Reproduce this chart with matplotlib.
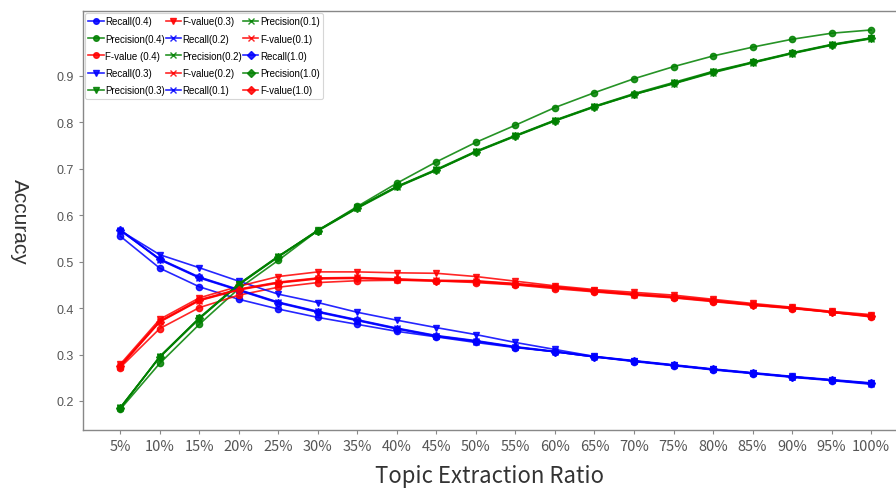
import matplotlib
matplotlib.use("Agg")
import matplotlib.pyplot as plt
import numpy as np

# ----------------------------------------------------------------------------
# data (ratio 5%..100%)
# ----------------------------------------------------------------------------
ratio_labels = [f"{r}%" for r in range(5, 101, 5)]

recall_04 = [0.555, 0.486, 0.446, 0.419, 0.398, 0.380, 0.365, 0.350, 0.338, 0.326,
             0.315, 0.306, 0.295, 0.285, 0.276, 0.267, 0.259, 0.251, 0.244, 0.236]
recall_03 = [0.567, 0.515, 0.487, 0.458, 0.430, 0.412, 0.391, 0.374, 0.358, 0.343,
             0.326, 0.311, 0.296, 0.287, 0.278, 0.269, 0.261, 0.253, 0.246, 0.239]
recall_02 = [0.567, 0.506, 0.467, 0.440, 0.413, 0.393, 0.375, 0.357, 0.341, 0.330,
             0.317, 0.307, 0.296, 0.286, 0.277, 0.268, 0.260, 0.252, 0.245, 0.238]
recall_01 = [0.568, 0.504, 0.465, 0.438, 0.411, 0.391, 0.373, 0.355, 0.339, 0.328,
             0.316, 0.306, 0.295, 0.286, 0.277, 0.268, 0.260, 0.252, 0.245, 0.237]
recall_10 = [0.569, 0.505, 0.466, 0.439, 0.412, 0.392, 0.374, 0.356, 0.340, 0.329,
             0.316, 0.306, 0.295, 0.286, 0.277, 0.268, 0.260, 0.252, 0.245, 0.238]

prec_04 = [0.182, 0.281, 0.365, 0.442, 0.503, 0.567, 0.619, 0.669, 0.715, 0.757,
           0.794, 0.832, 0.864, 0.894, 0.920, 0.943, 0.962, 0.979, 0.992, 0.999]
prec_03 = [0.185, 0.295, 0.378, 0.452, 0.511, 0.568, 0.617, 0.661, 0.698, 0.737,
           0.771, 0.804, 0.834, 0.860, 0.884, 0.908, 0.929, 0.949, 0.967, 0.981]
prec_02 = [0.186, 0.294, 0.377, 0.451, 0.510, 0.567, 0.616, 0.662, 0.699, 0.738,
           0.772, 0.805, 0.835, 0.862, 0.886, 0.910, 0.930, 0.950, 0.968, 0.982]
prec_01 = [0.184, 0.296, 0.379, 0.452, 0.512, 0.566, 0.615, 0.660, 0.697, 0.736,
           0.770, 0.803, 0.833, 0.860, 0.883, 0.907, 0.928, 0.948, 0.966, 0.980]
prec_10 = [0.185, 0.295, 0.378, 0.450, 0.511, 0.567, 0.616, 0.662, 0.697, 0.737,
           0.771, 0.804, 0.834, 0.861, 0.884, 0.909, 0.929, 0.949, 0.967, 0.981]

fval_04 = [0.272, 0.356, 0.401, 0.428, 0.445, 0.455, 0.459, 0.460, 0.459, 0.455,
           0.450, 0.442, 0.435, 0.428, 0.422, 0.414, 0.406, 0.399, 0.391, 0.381]
fval_03 = [0.279, 0.376, 0.422, 0.447, 0.468, 0.478, 0.478, 0.476, 0.475, 0.468,
           0.458, 0.448, 0.440, 0.434, 0.428, 0.419, 0.410, 0.402, 0.393, 0.386]
fval_02 = [0.276, 0.372, 0.418, 0.441, 0.456, 0.465, 0.466, 0.463, 0.460, 0.459,
           0.453, 0.446, 0.438, 0.431, 0.425, 0.417, 0.408, 0.401, 0.392, 0.384]
fval_01 = [0.274, 0.370, 0.416, 0.439, 0.454, 0.463, 0.464, 0.461, 0.458, 0.457,
           0.451, 0.444, 0.436, 0.429, 0.423, 0.415, 0.407, 0.400, 0.391, 0.382]
fval_10 = [0.275, 0.371, 0.417, 0.440, 0.455, 0.464, 0.465, 0.462, 0.459, 0.458,
           0.452, 0.445, 0.437, 0.430, 0.424, 0.416, 0.407, 0.400, 0.391, 0.383]

# label, values, colour, marker  (legend order = column-wise fill)
series = [
    ("Recall(0.4)",     recall_04, "blue",  "o"),
    ("Precision(0.4)",  prec_04,   "green", "o"),
    ("F-value (0.4)",   fval_04,   "red",   "o"),
    ("Recall(0.3)",     recall_03, "blue",  "v"),
    ("Precision(0.3)",  prec_03,   "green", "v"),
    ("F-value(0.3)",    fval_03,   "red",   "v"),
    ("Recall(0.2)",     recall_02, "blue",  "x"),
    ("Precision(0.2)",  prec_02,   "green", "x"),
    ("F-value(0.2)",    fval_02,   "red",   "x"),
    ("Recall(0.1)",     recall_01, "blue",  "x"),
    ("Precision(0.1)",  prec_01,   "green", "x"),
    ("F-value(0.1)",    fval_01,   "red",   "x"),
    ("Recall(1.0)",     recall_10, "blue",  "D"),
    ("Precision(1.0)",  prec_10,   "green", "D"),
    ("F-value(1.0)",    fval_10,   "red",   "D"),
]

plt.rcParams["font.family"] = ["Noto Sans CJK JP", "DejaVu Sans"]

fig = plt.figure(figsize=(8.96, 4.89), dpi=100)
ax = fig.add_axes([0.0926, 0.1186, 0.9074, 0.857])

x = np.arange(1, len(ratio_labels) + 1)
for label, vals, col, mk in series:
    ax.plot(x, vals, color=col, marker=mk, markersize=4.5, linewidth=1.2,
            alpha=0.85, label=label)

ax.set_xlim(0.057, 20.63)
ax.set_ylim(0.1375, 1.04)
ax.set_xticks(x)
ax.set_xticklabels(ratio_labels)
ax.set_yticks(np.arange(0.2, 0.95, 0.1))
ax.set_yticklabels([f"{v:.1f}" for v in np.arange(0.2, 0.95, 0.1)])

for side in ("left", "bottom", "top"):
    ax.spines[side].set_color("#888888")
    ax.spines[side].set_linewidth(1.0)
ax.spines["right"].set_visible(False)
ax.tick_params(axis="x", colors="#555555", labelsize=10.5, length=3, color="#888888")
ax.tick_params(axis="y", colors="#555555", labelsize=9, length=3, color="#888888")
for t in ax.get_yticklabels():
    t.set_family(["Liberation Sans", "DejaVu Sans"])

ax.set_xlabel("Topic Extraction Ratio", fontsize=16, color="#333333", labelpad=8)
ax.set_ylabel("Accuracy", fontsize=15, color="#333333", rotation=270,
              family=["Liberation Sans", "DejaVu Sans"])
ax.yaxis.set_label_coords(-0.09, 0.5)

leg = ax.legend(loc="upper left", ncol=3, frameon=True,
                handlelength=1.6, handletextpad=0.15, columnspacing=0.05,
                labelspacing=0.75, borderpad=0.35, borderaxespad=0.2,
                markerscale=0.9, prop={"family": ["Liberation Sans", "DejaVu Sans"], "size": 7})
leg.get_frame().set_edgecolor("#cccccc")
leg.get_frame().set_linewidth(0.8)

fig.savefig("out.png", dpi=100)
